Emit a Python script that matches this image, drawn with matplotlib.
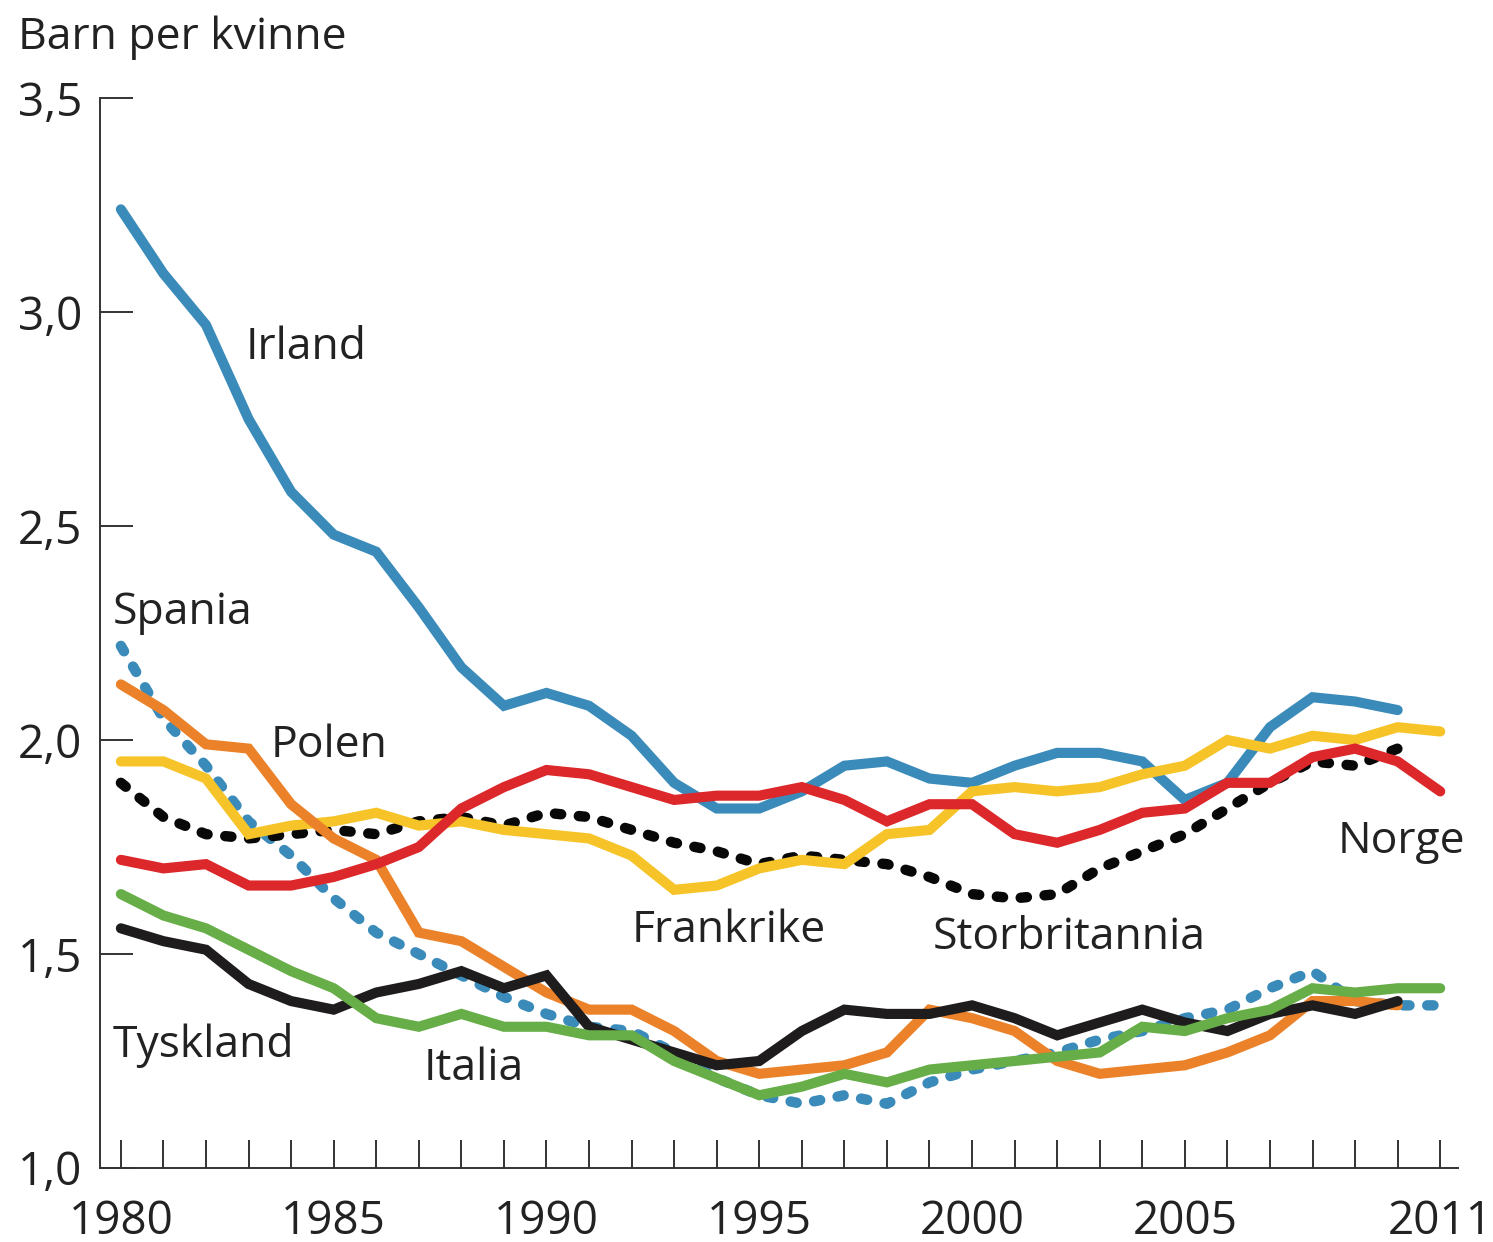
import matplotlib
matplotlib.use("Agg")
import matplotlib.pyplot as plt
from matplotlib.ticker import FuncFormatter

plt.rcParams["font.family"] = ["Open Sans", "DejaVu Sans"]

years = list(range(1980, 2012))

irland = [3.24, 3.09, 2.97, 2.75, 2.58, 2.48, 2.44, 2.31, 2.17, 2.08, 2.11, 2.08,
          2.01, 1.90, 1.84, 1.84, 1.88, 1.94, 1.95, 1.91, 1.90, 1.94, 1.97, 1.97,
          1.95, 1.86, 1.90, 2.03, 2.10, 2.09, 2.07]
spania = [2.22, 2.05, 1.94, 1.81, 1.73, 1.63, 1.55, 1.50, 1.45, 1.40, 1.36, 1.33,
          1.32, 1.27, 1.21, 1.17, 1.15, 1.17, 1.15, 1.20, 1.23, 1.25, 1.27, 1.30,
          1.32, 1.35, 1.37, 1.42, 1.46, 1.39, 1.38, 1.38]
polen = [2.13, 2.07, 1.99, 1.98, 1.85, 1.77, 1.72, 1.55, 1.53, 1.47, 1.41, 1.37,
         1.37, 1.32, 1.25, 1.22, 1.23, 1.24, 1.27, 1.37, 1.35, 1.32, 1.25, 1.22,
         1.23, 1.24, 1.27, 1.31, 1.39, 1.39, 1.38]
frankrike = [1.95, 1.95, 1.91, 1.78, 1.80, 1.81, 1.83, 1.80, 1.81, 1.79, 1.78, 1.77,
             1.73, 1.65, 1.66, 1.70, 1.72, 1.71, 1.78, 1.79, 1.88, 1.89, 1.88, 1.89,
             1.92, 1.94, 2.00, 1.98, 2.01, 2.00, 2.03, 2.02]
storbritannia = [1.90, 1.82, 1.78, 1.77, 1.78, 1.79, 1.78, 1.81, 1.82, 1.80, 1.83, 1.82,
                 1.79, 1.76, 1.74, 1.71, 1.73, 1.72, 1.71, 1.68, 1.64, 1.63, 1.64, 1.70,
                 1.74, 1.78, 1.84, 1.90, 1.95, 1.94, 1.98]
norge = [1.72, 1.70, 1.71, 1.66, 1.66, 1.68, 1.71, 1.75, 1.84, 1.89, 1.93, 1.92,
         1.89, 1.86, 1.87, 1.87, 1.89, 1.86, 1.81, 1.85, 1.85, 1.78, 1.76, 1.79,
         1.83, 1.84, 1.90, 1.90, 1.96, 1.98, 1.95, 1.88]
tyskland = [1.56, 1.53, 1.51, 1.43, 1.39, 1.37, 1.41, 1.43, 1.46, 1.42, 1.45, 1.33,
            1.30, 1.27, 1.24, 1.25, 1.32, 1.37, 1.36, 1.36, 1.38, 1.35, 1.31, 1.34,
            1.37, 1.34, 1.32, 1.36, 1.38, 1.36, 1.39]
italia = [1.64, 1.59, 1.56, 1.51, 1.46, 1.42, 1.35, 1.33, 1.36, 1.33, 1.33, 1.31,
          1.31, 1.25, 1.21, 1.17, 1.19, 1.22, 1.20, 1.23, 1.24, 1.25, 1.26, 1.27,
          1.33, 1.32, 1.35, 1.37, 1.42, 1.41, 1.42, 1.42]

year_labels = {1980: "1980", 1985: "1985", 1990: "1990", 1995: "1995",
               2000: "2000", 2005: "2005", 2011: "2011"}

blue = "#3a8bba"
ink = "#222222"

fig = plt.figure(figsize=(14.93, 12.42), dpi=100)
ax = fig.add_axes([0.067, 0.0596, 0.9096, 0.8614])

dotted = dict(lw=7.5, ls=(0, (0.6, 1.7)), dash_capstyle="round", solid_capstyle="round")
solid = dict(lw=7.3, solid_capstyle="round", solid_joinstyle="miter")

ax.plot(years, spania, color=blue, zorder=2, **dotted)
ax.plot(years[:len(irland)], irland, color=blue, zorder=3, **solid)
ax.plot(years[:len(storbritannia)], storbritannia, color="#080808", zorder=3, **dotted)
ax.plot(years, frankrike, color="#f6c428", zorder=3, **solid)
ax.plot(years[:len(polen)], polen, color="#eb822a", zorder=4, **solid)
ax.plot(years[:len(tyskland)], tyskland, color="#1e1c1c", zorder=4, **solid)
ax.plot(years, norge, color="#dc272b", zorder=5, **solid)
ax.plot(years, italia, color="#67ae48", zorder=6, **solid)

labels = [("Irland", 1982.94, 2.93), ("Spania", 1979.81, 2.311),
          ("Polen", 1983.53, 2.0), ("Tyskland", 1979.81, 1.299),
          ("Italia", 1987.12, 1.245), ("Frankrike", 1992.01, 1.568),
          ("Storbritannia", 1999.08, 1.551), ("Norge", 2008.58, 1.776)]
for name, lx, ly in labels:
    ax.text(lx, ly, name, fontsize=32, color=ink, ha="left", va="center_baseline")

ax.set_xlim(1979.51, 2011.42)
ax.set_ylim(1.0, 3.5)
ax.set_yticks([1.0, 1.5, 2.0, 2.5, 3.0, 3.5])
ax.yaxis.set_major_formatter(FuncFormatter(lambda v, p: f"{v:.1f}".replace(".", ",")))
ax.set_xticks(years)
ax.set_xticklabels([year_labels.get(y, "") for y in years])

for s in ("top", "right"):
    ax.spines[s].set_visible(False)
for s in ("left", "bottom"):
    ax.spines[s].set_linewidth(1.4)
    ax.spines[s].set_color("#333333")

ax.tick_params(axis="y", direction="in", length=24, width=1.4, color="#333333",
               labelsize=33, labelcolor=ink, pad=13)
ax.tick_params(axis="x", direction="in", length=20, width=1.4, color="#333333",
               labelsize=33, labelcolor=ink, pad=22)

fig.text(18 / 1493, 1 - 32 / 1242, "Barn per kvinne", fontsize=32, color=ink,
         ha="left", va="center_baseline")

fig.savefig("out.png", dpi=100, facecolor="white")
